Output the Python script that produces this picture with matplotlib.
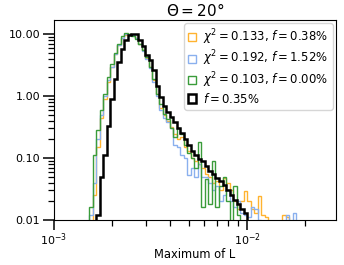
import numpy as np
import matplotlib
matplotlib.use("Agg")
import matplotlib.pyplot as plt
from matplotlib.ticker import FormatStrFormatter, LogLocator, NullFormatter

# log-spaced bins (k = 10 .. 68, width 1/55 dex)
k_first = 10
n_bins = 59
edges = 10 ** (-3 + np.arange(k_first, k_first + n_bins + 1) / 55.0)
centers = np.sqrt(edges[:-1] * edges[1:])

orange = [0, 0.025, 0.15, 0.45, 0.9, 1.7, 2.9, 4.7, 6.8, 8.7,
          9.8, 10.0, 9.7, 8.7, 7.0, 5.5, 4.1, 2.9, 1.8, 1.1,
          0.65, 0.5, 0.4, 0.32, 0.24, 0.2, 0.22, 0.15, 0.13, 0.1,
          0.09, 0.08, 0.07, 0.055, 0.05, 0.04, 0.042, 0.03, 0.047, 0.04,
          0.03, 0.02, 0.015, 0.02, 0.029, 0.02, 0.015, 0.013, 0.024, 0.012,
          0.011, 0, 0, 0, 0, 0.012, 0.011, 0, 0]
blue = [0.012, 0.04, 0.2, 0.5, 1.0, 1.8, 3.0, 4.8, 6.8, 8.8,
        9.9, 10.0, 9.6, 8.6, 7.0, 5.4, 4.0, 2.8, 1.7, 1.0,
        0.6, 0.45, 0.38, 0.3, 0.16, 0.15, 0.11, 0.1, 0.053, 0.07,
        0.05, 0.08, 0.05, 0.05, 0.04, 0.03, 0.035, 0.02, 0.025, 0.03,
        0.02, 0.016, 0.02, 0.013, 0.012, 0.011, 0.016, 0.015, 0.01, 0,
        0, 0, 0, 0, 0, 0, 0.012, 0, 0.013]
green = [0.016, 0.11, 0.28, 0.6, 1.1, 2.0, 3.3, 5.0, 7.0, 9.5,
         10.3, 10.2, 9.5, 8.2, 7.0, 5.6, 4.2, 3.0, 1.9, 1.1,
         0.75, 0.52, 0.42, 0.3, 0.22, 0.3, 0.24, 0.16, 0.12, 0.1,
         0.07, 0.18, 0.016, 0.045, 0.018, 0.09, 0.016, 0.035, 0.05, 0.02,
         0.009, 0.035, 0.012, 0, 0, 0, 0, 0, 0, 0,
         0, 0, 0, 0, 0, 0, 0, 0, 0]
black = [0, 0, 0.012, 0.05, 0.11, 0.33, 0.9, 1.9, 3.5, 5.8,
         8.0, 9.6, 10.0, 9.9, 8.0, 6.5, 4.6, 3.8, 2.6, 1.45,
         0.95, 0.7, 0.55, 0.46, 0.38, 0.31, 0.25, 0.2, 0.16, 0.13,
         0.11, 0.095, 0.088, 0.075, 0.062, 0.056, 0.048, 0.042, 0.036, 0.03,
         0.025, 0.021, 0.018, 0.015, 0.013, 0, 0, 0, 0, 0,
         0, 0, 0, 0, 0, 0, 0, 0, 0]

labels = [r"$\chi^2 = 0.133$, $f = 0.38\%$",
          r"$\chi^2 = 0.192$, $f = 1.52\%$",
          r"$\chi^2 = 0.103$, $f = 0.00\%$",
          r"$f = 0.35\%$"]

fig = plt.figure(figsize=(3.44, 2.65), dpi=100)
ax = fig.add_axes([0.157, 0.170, 0.820, 0.755])

series = [(orange, "#FFB330", 1.0), (blue, "#8AB0EE", 1.0),
          (green, "#3A9C3A", 1.0), (black, "black", 1.8)]
for (vals, col, lw), lab in zip(series, labels):
    ax.hist(centers, bins=edges, weights=vals, histtype="step",
            color=col, lw=lw, label=lab)

ax.set_xscale("log")
ax.set_yscale("log")
ax.set_xlim(1e-3, 2.89e-2)
ax.set_ylim(0.01, 17)
ax.yaxis.set_major_locator(LogLocator(base=10, numticks=10))
ax.yaxis.set_minor_locator(LogLocator(base=10, subs=np.arange(2, 10), numticks=10))
ax.yaxis.set_major_formatter(FormatStrFormatter("%.2f"))
ax.yaxis.set_minor_formatter(NullFormatter())
ax.xaxis.set_minor_formatter(NullFormatter())

ax.tick_params(which="major", length=8, width=1.1, labelsize=8, pad=2)
ax.tick_params(axis="x", which="major", length=7.5, pad=1)
ax.tick_params(which="minor", length=4.5, width=0.9)

ax.set_xlabel("Maximum of L", fontsize=8.3, labelpad=0)
ax.set_title(r"$\Theta = 20°$", fontsize=11, pad=3)
ax.legend(loc="upper right", fontsize=8.4, handlelength=0.7, handletextpad=0.6,
          borderaxespad=0.3, labelspacing=0.15, borderpad=0.35)

fig.savefig("out.png", dpi=100)
